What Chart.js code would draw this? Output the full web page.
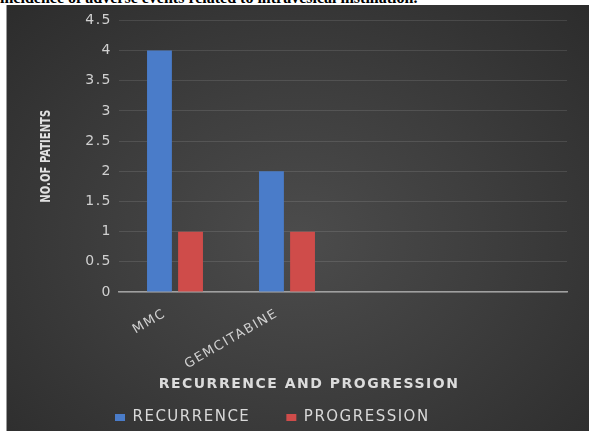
<!DOCTYPE html>
<html>
<head>
<meta charset="utf-8">
<script src="https://cdn.jsdelivr.net/npm/chart.js@4/dist/chart.umd.min.js"></script>
<style>
  html, body { margin: 0; padding: 0; background: #ffffff; width: 589px; height: 431px; overflow: hidden; }
  #caption { position: absolute; left: 0; top: -11px; font: bold 16px "Liberation Serif", serif; color: #000; white-space: nowrap; }
  #panel { position: absolute; left: 6px; top: 5px; width: 583px; height: 426px;
    border-left: 1px solid #9a9a9a; box-sizing: border-box;
    background: radial-gradient(ellipse at 50% 55%, #4c4c4c 0%, #3e3e3e 45%, #2c2c2c 100%); }
  #c { position: absolute; left: 0; top: 0; }
</style>
</head>
<body>
<div id="caption">incidence of adverse events related to intravesical instillation.</div>
<div id="panel"><canvas id="c" width="582" height="426"></canvas></div>
<script>
const categories = ['MMC', 'GEMCITABINE', '', ''];
const recurrence = [4, 2];
const progression = [1, 1];
const seriesNames = ['RECURRENCE', 'PROGRESSION'];
const yTickLabels = ['0', '0.5', '1', '1.5', '2', '2.5', '3', '3.5', '4', '4.5'];
const yTitle = 'NO.OF PATIENTS';
const xTitle = 'RECURRENCE AND PROGRESSION';

const LEGEND_START = 108;   // left of first legend item (canvas px)
const LEGEND_TOP = 369;

function patch(obj, name, spacing, pre) {
  const orig = obj[name];
  obj[name] = function () {
    const c = this.ctx;
    c.save();
    c.letterSpacing = spacing;
    if (pre) pre.call(this, c);
    orig.apply(this, arguments);
    c.restore();
  };
}

const stylePlugin = {
  id: 'stylePlugin',
  beforeUpdate(chart) { chart.ctx.letterSpacing = '1.5px'; },
  afterLayout(chart) {
    const lg = chart.legend;
    if (!lg || !lg.lineWidths) return;
    const pad = lg.options.labels.padding;
    const x0 = (lg.left + pad + lg.right - lg.lineWidths[0]) / 2;
    const dx = LEGEND_START - x0;
    lg.left += dx; lg.right += dx;
    lg.top = LEGEND_TOP; lg.bottom = chart.height;
  },
  beforeDraw(chart) {
    chart.ctx.letterSpacing = '1.5px';
    const y = chart.scales.y, x = chart.scales.x;
    if (y && !y._patched) {
      patch(y, 'drawTitle', '0px', function (c) {
        const cy = (this.top + this.bottom) / 2;
        c.translate(0, cy); c.scale(1, 0.8); c.translate(0, -cy);
      });
      patch(y, 'drawLabels', '1.5px');
      y._patched = true;
    }
    if (x && !x._patched) {
      patch(x, 'drawTitle', '1.5px', function (c) { c.translate(-34, 2); });
      x._patched = true;
    }
  }
};

new Chart(document.getElementById('c'), {
  type: 'bar',
  data: {
    labels: categories,
    datasets: [
      { label: seriesNames[0], data: recurrence, backgroundColor: '#4a7cc9', borderWidth: 0,
        categoryPercentage: 0.555, barPercentage: 0.8 },
      { label: seriesNames[1], data: progression, backgroundColor: '#cf4c4a', borderWidth: 0,
        categoryPercentage: 0.555, barPercentage: 0.8 }
    ]
  },
  options: {
    responsive: false,
    animation: false,
    layout: { padding: { top: 12, right: 22, left: 0, bottom: 0 } },
    plugins: {
      legend: {
        position: 'bottom',
        maxHeight: 40,
        labels: {
          boxWidth: 10, boxHeight: 7, padding: 36,
          color: '#d9d9d9',
          font: { family: 'DejaVu Sans', size: 15 }
        }
      },
      tooltip: { enabled: false }
    },
    scales: {
      x: {
        grid: { display: false },
        border: { display: true, color: '#a0a0a0', width: 1.5 },
        ticks: {
          color: '#d0d0d0', font: { family: 'DejaVu Sans', size: 13 },
          minRotation: 30, maxRotation: 30, autoSkip: false, padding: 6, labelOffset: -10
        },
        title: {
          display: true, text: xTitle, color: '#dcdcdc',
          font: { family: 'DejaVu Sans', size: 14, weight: 'bold' },
          padding: { top: 0, bottom: 0 }
        },
        afterFit(scale) { scale.height = 99; }
      },
      y: {
        min: 0, max: 4.5,
        ticks: {
          stepSize: 0.5, color: '#d0d0d0', font: { family: 'DejaVu Sans', size: 14 }, padding: 7,
          callback: (v, i) => yTickLabels[i]
        },
        grid: { color: 'rgba(255,255,255,0.11)', drawTicks: false },
        border: { display: false },
        title: {
          display: true, text: yTitle, color: '#e0e0e0',
          font: { family: '"Liberation Sans Narrow", "DejaVu Sans Condensed", "Roboto Condensed", Roboto', size: 14, weight: 'bold' },
          padding: { top: 31, bottom: 0 }
        },
        afterFit(scale) { scale.width = 112; }
      }
    }
  },
  plugins: [stylePlugin]
});
</script>
</body>
</html>
